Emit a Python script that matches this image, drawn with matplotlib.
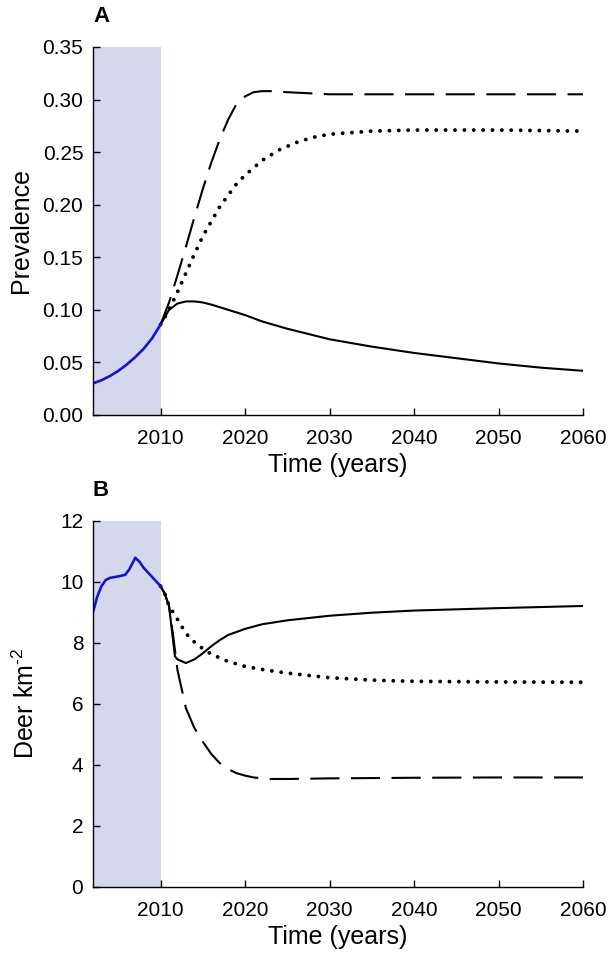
import numpy as np
import matplotlib
matplotlib.use('agg')
import matplotlib.pyplot as plt

plt.rcParams['font.family'] = ['Liberation Sans', 'DejaVu Sans']
plt.rcParams['mathtext.fontset'] = 'custom'
plt.rcParams['mathtext.rm'] = 'Liberation Sans'
plt.rcParams['mathtext.it'] = 'Liberation Sans:italic'

# ---- panel A: prevalence ----
prev_obs_years = [2002, 2003, 2004, 2005, 2006, 2007, 2008, 2009, 2010]
prev_obs = [0.030, 0.033, 0.037, 0.042, 0.048, 0.055, 0.063, 0.073, 0.086]

prev_solid_years = [2010, 2011, 2012, 2013, 2014, 2015, 2016, 2018, 2020, 2022,
                    2025, 2028, 2030, 2035, 2040, 2045, 2050, 2055, 2060]
prev_solid = [0.086, 0.100, 0.106, 0.108, 0.108, 0.107, 0.105, 0.100, 0.095, 0.089,
              0.082, 0.076, 0.072, 0.065, 0.059, 0.054, 0.049, 0.045, 0.042]

prev_dash_years = [2010, 2011, 2012, 2013, 2014, 2015, 2016, 2017, 2018, 2019,
                   2020, 2021, 2022, 2023, 2025, 2030, 2040, 2050, 2060]
prev_dash = [0.086, 0.107, 0.133, 0.160, 0.188, 0.215, 0.240, 0.262, 0.281, 0.296,
             0.303, 0.307, 0.308, 0.308, 0.307, 0.305, 0.305, 0.305, 0.305]

prev_dot_years = [2010, 2011, 2012, 2013, 2014, 2015, 2016, 2017, 2018, 2019, 2020,
                  2022, 2024, 2026, 2028, 2030, 2035, 2040, 2050, 2060]
prev_dot = [0.086, 0.100, 0.117, 0.135, 0.153, 0.170, 0.184, 0.198, 0.209, 0.220, 0.228,
            0.242, 0.252, 0.259, 0.264, 0.267, 0.270, 0.271, 0.271, 0.270]

# ---- panel B: deer density ----
deer_obs_years = [2002, 2002.5, 2003, 2003.5, 2004, 2005, 2005.8, 2006.3, 2007,
                  2007.5, 2008, 2009, 2010]
deer_obs = [9.0, 9.5, 9.85, 10.05, 10.12, 10.17, 10.22, 10.4, 10.78,
            10.65, 10.45, 10.15, 9.85]

deer_solid_years = [2010, 2010.5, 2011, 2011.7, 2012, 2013, 2014, 2015, 2016, 2017,
                    2018, 2020, 2022, 2025, 2030, 2035, 2040, 2050, 2060]
deer_solid = [9.85, 9.6, 9.2, 7.55, 7.45, 7.33, 7.45, 7.65, 7.88, 8.08,
              8.25, 8.45, 8.6, 8.73, 8.88, 8.98, 9.05, 9.13, 9.2]

deer_dot_years = [2010, 2010.5, 2011, 2011.7, 2013, 2014, 2015, 2016, 2018, 2020,
                  2022, 2025, 2030, 2035, 2040, 2050, 2060]
deer_dot = [9.85, 9.6, 9.2, 8.9, 8.3, 8.02, 7.8, 7.62, 7.38, 7.22,
            7.12, 7.0, 6.85, 6.77, 6.73, 6.71, 6.7]

deer_dash_years = [2010, 2010.5, 2011, 2011.5, 2012, 2013, 2014, 2015, 2016, 2017,
                   2018, 2019, 2020, 2021, 2023, 2025, 2030, 2040, 2050, 2060]
deer_dash = [9.85, 9.6, 9.2, 8.2, 7.1, 5.85, 5.2, 4.75, 4.35, 4.05,
             3.85, 3.72, 3.64, 3.58, 3.53, 3.53, 3.55, 3.57, 3.58, 3.58]

SHADE = '#d4d8ea'
BLUE = '#1414d2'
DASH = (0, (14, 5.5))
DOT = (0, (0.01, 2.4))


def style_axes(ax, ylim, yticks, yfmt):
    ax.set_xlim(2002, 2060)
    ax.set_ylim(*ylim)
    ax.set_xticks([2010, 2020, 2030, 2040, 2050, 2060])
    ax.set_yticks(yticks)
    ax.set_yticklabels([yfmt.format(v) for v in yticks])
    for s in ['top', 'right']:
        ax.spines[s].set_visible(False)
    for s in ['left', 'bottom']:
        ax.spines[s].set_linewidth(1.0)
    ax.tick_params(direction='in', length=5, width=1.0, labelsize=15)
    ax.tick_params(axis='y', pad=7)
    ax.tick_params(axis='x', pad=10)
    ax.axvspan(2002, 2010, color=SHADE, lw=0, zorder=0)
    ax.set_xlabel('Time (years)', fontsize=18, labelpad=4)


def draw(ax, oy, ov, sy, sv, dy, dv, py, pv):
    ax.plot(py, pv, color='black', lw=2.8, ls=DOT, dash_capstyle='round')
    ax.plot(dy, dv, color='black', lw=1.5, ls=DASH)
    ax.plot(sy, sv, color='black', lw=1.5)
    ax.plot(oy, ov, color=BLUE, lw=1.9)


fig = plt.figure(figsize=(6.11, 9.59), dpi=100)
ax1 = fig.add_axes([0.1522, 0.5673, 0.802, 0.3837])
ax2 = fig.add_axes([0.1522, 0.0754, 0.802, 0.3818])

draw(ax1, prev_obs_years, prev_obs, prev_solid_years, prev_solid,
     prev_dash_years, prev_dash, prev_dot_years, prev_dot)
style_axes(ax1, (0, 0.35), np.arange(0, 0.351, 0.05), '{:.2f}')
ax1.set_ylabel('Prevalence', fontsize=18, labelpad=7)

draw(ax2, deer_obs_years, deer_obs, deer_solid_years, deer_solid,
     deer_dash_years, deer_dash, deer_dot_years, deer_dot)
style_axes(ax2, (0, 12), np.arange(0, 13, 2), '{:.0f}')
ax2.set_ylabel('Deer km$^{\\text{-2}}$', fontsize=18, labelpad=15)

fig.text(0.1522, 0.983, 'A', fontsize=16, fontweight='bold', va='center', ha='left')
fig.text(0.1522, 0.489, 'B', fontsize=16, fontweight='bold', va='center', ha='left')

fig.savefig('out.png', dpi=100)
